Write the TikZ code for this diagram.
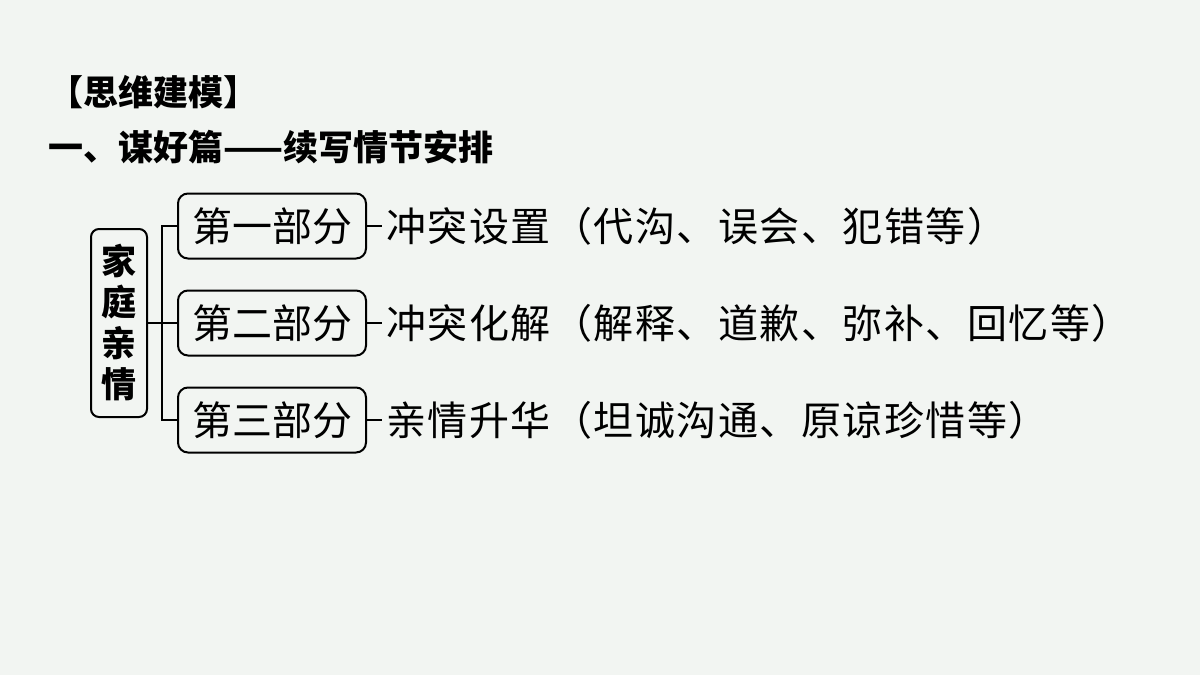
\documentclass[tikz,border=0pt]{standalone}
\usepackage{fontspec}
\usepackage{xcolor}
\usepackage{tikz}
\newfontfamily\heiti{Noto Sans CJK SC}
\newfontfamily\heitiwide{Noto Sans CJK SC}[LetterSpace=3.7]
\definecolor{pagebg}{RGB}{242,245,242}
\tikzstyle{title}=[anchor=west,inner sep=0pt,font=\heiti\bfseries\fontsize{17.5pt}{21pt}\selectfont]
\tikzstyle{topic}=[draw,line width=1pt,rounded corners=4pt,minimum width=28pt,minimum height=94pt,align=center,inner sep=0pt,font=\heiti\bfseries\fontsize{17.5pt}{20.5pt}\selectfont]
\tikzstyle{part}=[draw,line width=1pt,rounded corners=5pt,minimum width=94pt,minimum height=32.5pt,inner sep=0pt,font=\heiti\fontsize{20pt}{24pt}\selectfont]
\tikzstyle{detail}=[anchor=west,inner sep=2pt,font=\heitiwide\fontsize{20pt}{24pt}\selectfont]
\tikzstyle{link}=[line width=.8pt]

\begin{document}
\begin{tikzpicture}[x=.5pt,y=-.5pt]
	\path[use as bounding box,fill=pagebg] (0,0) rectangle (1200,675);
	\node[title] (T) at (48,92)  {【思维建模】};
	\node[title] (S) at (48,147) {一、谋好篇——续写情节安排};
	\node[topic] (F)  at (119,323) {家\\庭\\亲\\情};
	\node[part]  (P1) at (272,226) {第一部分};
	\node[part]  (P2) at (272,323) {第二部分};
	\node[part]  (P3) at (272,420) {第三部分};
	\node[detail] (D1) at (382,226) {冲突设置（代沟、误会、犯错等）};
	\node[detail] (D2) at (382,323) {冲突化解（解释、道歉、弥补、回忆等）};
	\node[detail] (D3) at (382,420) {亲情升华（坦诚沟通、原谅珍惜等）};
	\coordinate (fork) at (162,323);
	\draw[link] (F) -- (fork);
	\draw[link] (P1) -| (fork) |- (P3);
	\draw[link] (fork) -- (P2);
	\draw[link] (P1) -- (D1);
	\draw[link] (P2) -- (D2);
	\draw[link] (P3) -- (D3);
\end{tikzpicture}
\end{document}
